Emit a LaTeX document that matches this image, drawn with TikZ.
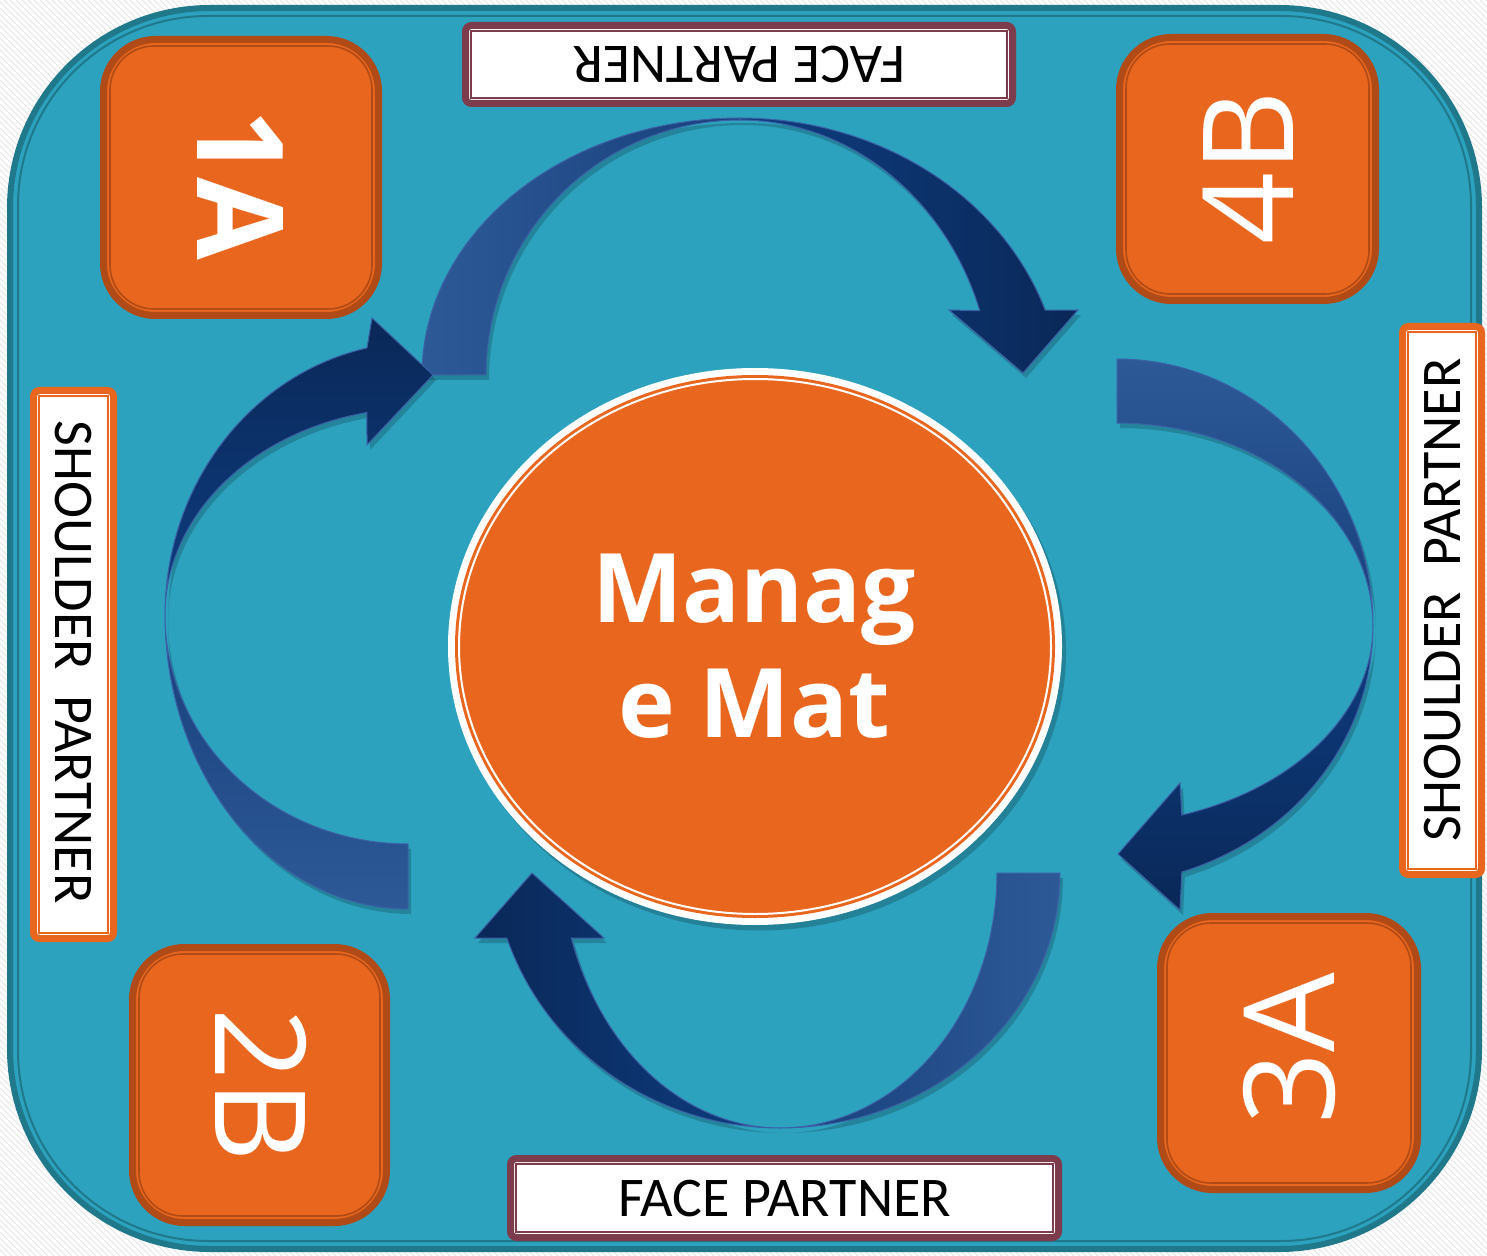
\documentclass[tikz,border=0pt]{standalone}
\usepackage{fontspec}
\usetikzlibrary{patterns}
\newfontfamily\lblfont{Carlito}
\newfontfamily\osfont{Open Sans}
\definecolor{matteal}{HTML}{2CA2BE}
\definecolor{matedge}{HTML}{1F798B}
\definecolor{sqorange}{HTML}{E9661E}
\definecolor{sqedge}{HTML}{B04A16}
\definecolor{maroonc}{HTML}{7D3C4B}
\definecolor{arrLight}{HTML}{2D5A97}
\definecolor{arrMid}{HTML}{173F7B}
\definecolor{arrBright}{HTML}{0E3D80}
\definecolor{arrDark}{HTML}{0A2858}
\definecolor{arrEdge}{HTML}{3C60A6}
% arrow band paths (pixel coordinates, y downwards)
\def\pTAL{plot[domain=180:270,samples=40,variable=\t] ({740+318*cos(\t)},{375+257*sin(\t)}) -- plot[domain=270:180,samples=40,variable=\t] ({740+254*cos(\t)},{375+255*sin(\t)}) -- cycle}
\def\pTAR{plot[domain=270:341.4,samples=40,variable=\t] ({740+322*cos(\t)},{400+282*sin(\t)}) -- (1078,310) -- (1023,373) -- (949,310) -- plot[domain=341.4:270,samples=40,variable=\t] ({740+253*cos(\t)},{400+280*sin(\t)}) -- cycle}
\def\pRAU{plot[domain=270:360,samples=40,variable=\t] ({1117+256*cos(\t)},{626+267*sin(\t)}) -- plot[domain=360:270,samples=40,variable=\t] ({1117+256*cos(\t)},{626+203*sin(\t)}) -- cycle}
\def\pRAL{plot[domain=0:71.8,samples=40,variable=\t] ({1095+278*cos(\t)},{626+259*sin(\t)}) -- (1180,910) -- (1118,854) -- (1180,783) -- plot[domain=71.8:0,samples=40,variable=\t] ({1095+278*cos(\t)},{626+199*sin(\t)}) -- cycle}
\def\pBAR{plot[domain=0:90,samples=40,variable=\t] ({780+280*cos(\t)},{873+255*sin(\t)}) -- plot[domain=90:0,samples=40,variable=\t] ({780+217*cos(\t)},{873+255*sin(\t)}) -- cycle}
\def\pBAL{plot[domain=90:161.5,samples=40,variable=\t] ({780+288*cos(\t)},{850+278*sin(\t)}) -- (475,938) -- (532,873) -- (604,938) -- plot[domain=161.5:90,samples=40,variable=\t] ({780+220*cos(\t)},{850+278*sin(\t)}) -- cycle}
\def\pLAL{plot[domain=90:180,samples=40,variable=\t] ({408+243*cos(\t)},{615+294*sin(\t)}) -- plot[domain=180:90,samples=40,variable=\t] ({408+243*cos(\t)},{615+229*sin(\t)}) -- cycle}
\def\pLAU{plot[domain=180:258,samples=40,variable=\t] ({420+255*cos(\t)},{615+273*sin(\t)}) -- (372,318) -- (433,375) -- (367,445) -- plot[domain=258:180,samples=40,variable=\t] ({420+255*cos(\t)},{615+207*sin(\t)}) -- cycle}
\begin{document}
\begin{tikzpicture}[x=0.5pt,y=-0.5pt,
  sqbox/.style={fill=sqorange, draw=sqedge, line width=3.5pt, rounded corners=26pt},
  sqinner/.style={draw=sqedge, line width=0.8pt, rounded corners=22pt},
  sqtext/.style={text=white, inner sep=0pt, font=\osfont\fontsize{63}{63}\selectfont},
  sqbold/.style={text=white, inner sep=0pt, font=\osfont\bfseries\fontsize{60}{60}\selectfont},
  facebox/.style={fill=white, draw=maroonc, line width=3.5pt, rounded corners=3pt},
  faceinner/.style={draw=maroonc, line width=0.8pt},
  shbox/.style={fill=white, draw=sqorange, line width=3.5pt, rounded corners=3pt},
  shinner/.style={draw=sqorange, line width=0.8pt},
  lbltext/.style={text=black, inner sep=0pt, font=\lblfont\fontsize{28}{28}\selectfont},
  mmtext/.style={text=white, inner sep=0pt, font=\osfont\bfseries\fontsize{48}{48}\selectfont},
  arrband/.style={draw=arrEdge, line width=0.5pt},
  arrshadow/.style={fill=black, opacity=0.18, shift={(3,5)}}]
\useasboundingbox (0,0) rectangle (1487,1256);
% background
\fill[white] (0,0) rectangle (1487,1256);
\fill[pattern=north west lines, pattern color=black!10] (0,0) rectangle (1487,1256);
% mat
\draw[draw=matedge, line width=3pt, fill=matteal, rounded corners=100pt] (10,8) rectangle (1479,1249);
\draw[draw=matedge, line width=1pt, rounded corners=95pt] (18,16) rectangle (1471,1241);
% label boxes
\draw[facebox] (465.5,25.5) rectangle (1012.5,103.5);
\draw[faceinner] (471,31) rectangle (1007,98);
\node[lbltext, rotate=180] (fpTop) at (739,64.5) {FACE PARTNER};
\draw[facebox] (510.5,1158.5) rectangle (1058.5,1237.5);
\draw[faceinner] (516,1164) rectangle (1053,1232);
\node[lbltext] (fpBot) at (784.5,1199) {FACE PARTNER};
\draw[shbox] (33.5,390.5) rectangle (113.5,938.5);
\draw[shinner] (39,396) rectangle (108,933);
\node[lbltext, rotate=-90] (spL) at (73.5,662) {SHOULDER\ \ PARTNER};
\draw[shbox] (1402.5,326.5) rectangle (1481.5,874.5);
\draw[shinner] (1408,332) rectangle (1476,869);
\node[lbltext, rotate=90] (spR) at (1443,600) {SHOULDER\ \ PARTNER};
% orange squares
\draw[sqbox] (103.5,39.5) rectangle (378.5,315.5);
\draw[sqinner] (110,46) rectangle (372,309);
\node[sqbold, rotate=-90] (t1A) at (241,185) {1A};
\draw[sqbox] (1119.5,37.5) rectangle (1375.5,300.5);
\draw[sqinner] (1126,44) rectangle (1369,294);
\node[sqtext, rotate=90] (t4B) at (1248,167.5) {4B};
\draw[sqbox] (132.5,947.5) rectangle (386.5,1222.5);
\draw[sqinner] (139,954) rectangle (380,1216);
\node[sqtext, rotate=-90] (t2B) at (261,1085) {2B};
\draw[sqbox] (1160.5,916.5) rectangle (1417.5,1189.5);
\draw[sqinner] (1167,923) rectangle (1411,1183);
\node[sqtext, rotate=90] (t3A) at (1289,1049) {3A};
% arrow shadows
\fill[arrshadow] \pTAL;
\fill[arrshadow] \pTAR;
\fill[arrshadow] \pRAU;
\fill[arrshadow] \pRAL;
\fill[arrshadow] \pBAR;
\fill[arrshadow] \pBAL;
\fill[arrshadow] \pLAL;
\fill[arrshadow] \pLAU;
% arrows
\path[arrband, left color=arrLight, right color=arrMid] \pTAL;
\path[arrband, left color=arrBright, right color=arrDark] \pTAR;
\path[arrband, top color=arrLight, bottom color=arrMid] \pRAU;
\path[arrband, top color=arrBright, bottom color=arrDark] \pRAL;
\path[arrband, right color=arrLight, left color=arrMid] \pBAR;
\path[arrband, left color=arrDark, right color=arrBright] \pBAL;
\path[arrband, bottom color=arrLight, top color=arrMid] \pLAL;
\path[arrband, top color=arrDark, bottom color=arrBright] \pLAU;
% central mat
\fill[black, opacity=0.2] (759,652) ellipse[x radius=153.5pt, y radius=139.25pt];
\fill[white] (755,646.5) ellipse[x radius=153.5pt, y radius=139.25pt];
\fill[sqorange] (755,646.5) ellipse[x radius=150pt, y radius=135.75pt];
\draw[white, line width=1pt] (755,646.5) ellipse[x radius=148pt, y radius=133.75pt];
\node[mmtext, anchor=base] (mm1) at (754,622) {Manag};
\node[mmtext, anchor=base] (mm2) at (754,737) {e Mat};
\end{tikzpicture}
\end{document}
